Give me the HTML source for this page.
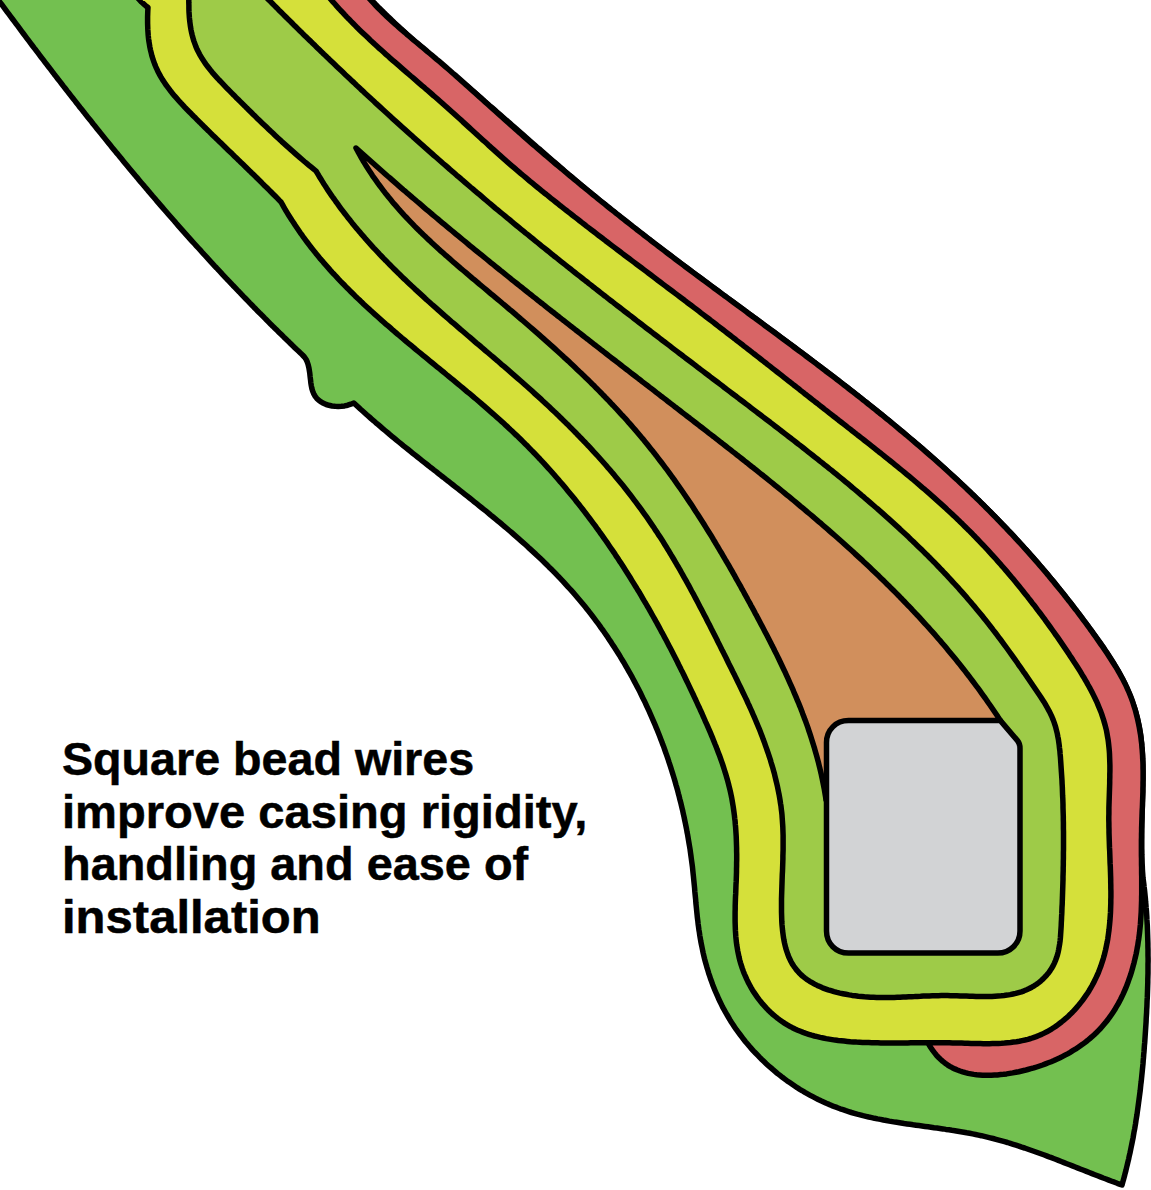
<!DOCTYPE html>
<html><head><meta charset="utf-8"><style>
html,body{margin:0;padding:0;background:#fff;width:1151px;height:1190px;overflow:hidden;position:relative}
.t{position:absolute;left:61.5px;top:732.8px;font-family:"Liberation Sans",sans-serif;font-weight:bold;font-size:46.5px;line-height:52.7px;color:#000;white-space:nowrap}
.t div{transform-origin:0 0;-webkit-text-stroke:0.5px #000}
</style></head><body>
<svg width="1151" height="1190" viewBox="0 0 1151 1190" style="position:absolute;left:0;top:0">
<g stroke="#000" stroke-width="5.5" stroke-linejoin="round">
<path fill="#73c050" d="M-9.0,-10.0 L-7.2,-7.6 L-5.4,-5.2 L-3.7,-2.7 L-1.9,-0.3 L-0.1,2.1 L1.7,4.5 L3.5,6.9 L5.3,9.4 L7.1,11.8 L8.9,14.2 L10.7,16.6 L12.5,19.0 L14.3,21.4 L16.1,23.8 L17.9,26.2 L19.7,28.7 L21.5,31.1 L23.3,33.5 L25.1,35.9 L26.9,38.3 L28.7,40.7 L30.5,43.1 L32.3,45.5 L34.1,47.9 L36.0,50.3 L37.8,52.7 L39.6,55.1 L41.4,57.5 L43.3,59.9 L45.1,62.3 L46.9,64.7 L48.7,67.0 L50.6,69.4 L52.4,71.8 L54.2,74.2 L56.1,76.6 L57.9,79.0 L59.8,81.4 L61.6,83.7 L63.4,86.1 L65.3,88.5 L67.1,90.9 L69.0,93.3 L70.8,95.6 L72.7,98.0 L74.6,100.4 L76.4,102.7 L78.3,105.1 L80.1,107.5 L82.0,109.8 L83.9,112.2 L85.7,114.6 L87.6,116.9 L89.5,119.3 L91.4,121.6 L93.2,124.0 L95.1,126.3 L97.0,128.7 L98.9,131.0 L100.8,133.4 L102.7,135.7 L104.6,138.1 L106.4,140.4 L108.3,142.8 L110.2,145.1 L112.1,147.4 L114.0,149.8 L115.9,152.1 L117.9,154.4 L119.8,156.8 L121.7,159.1 L123.6,161.4 L125.5,163.7 L127.4,166.0 L129.4,168.4 L131.3,170.7 L133.2,173.0 L135.1,175.3 L137.1,177.6 L139.0,179.9 L140.9,182.2 L142.9,184.5 L144.8,186.8 L146.8,189.1 L148.7,191.4 L150.7,193.7 L152.6,196.0 L154.6,198.3 L156.5,200.6 L158.5,202.9 L160.4,205.1 L162.4,207.4 L164.4,209.7 L166.4,212.0 L168.3,214.2 L170.3,216.5 L172.3,218.8 L174.3,221.0 L176.2,223.3 L178.2,225.6 L180.2,227.8 L182.2,230.1 L184.2,232.3 L186.2,234.6 L188.2,236.8 L190.2,239.1 L192.2,241.3 L194.2,243.5 L196.3,245.8 L198.3,248.0 L200.3,250.2 L202.3,252.5 L204.3,254.7 L206.4,256.9 L208.4,259.1 L210.4,261.3 L212.5,263.6 L214.5,265.8 L216.6,268.0 L218.6,270.2 L220.7,272.4 L222.7,274.6 L224.8,276.8 L226.8,279.0 L228.9,281.1 L231.0,283.3 L233.0,285.5 L235.1,287.7 L237.2,289.9 L239.3,292.0 L241.3,294.2 L243.4,296.4 L245.5,298.5 L247.6,300.7 L249.7,302.9 L251.8,305.0 L253.9,307.2 L256.0,309.3 L258.1,311.5 L260.2,313.6 L262.4,315.7 L264.5,317.9 L266.6,320.0 L268.7,322.1 L270.8,324.3 L273.0,326.4 L275.1,328.5 L277.3,330.6 L279.4,332.7 L281.6,334.8 L283.7,336.9 L285.9,339.0 L288.0,341.1 L290.2,343.2 L292.3,345.3 L294.5,347.4 L296.7,349.5 L298.9,351.5 L301.0,353.6 L302.5,355.0 L304.4,357.0 L306.0,359.3 L307.2,361.8 L308.1,364.5 L308.8,367.3 L309.3,370.3 L309.8,373.4 L310.1,376.5 L310.5,379.6 L310.8,382.6 L311.3,385.7 L311.9,388.6 L312.7,391.3 L313.8,393.9 L315.2,396.3 L316.8,398.4 L318.8,400.3 L321.1,401.9 L323.5,403.3 L326.2,404.5 L329.0,405.3 L332.0,406.0 L335.1,406.3 L338.2,406.4 L341.4,406.3 L344.6,405.9 L347.7,405.2 L350.8,404.2 L353.8,403.0 L356.0,405.0 L358.2,407.0 L360.3,409.0 L362.6,411.0 L364.8,413.0 L367.0,415.0 L369.2,416.9 L371.4,418.9 L373.7,420.8 L375.9,422.8 L378.2,424.7 L380.5,426.7 L382.7,428.6 L385.0,430.5 L387.3,432.4 L389.6,434.4 L391.9,436.3 L394.2,438.2 L396.5,440.1 L398.8,442.0 L401.2,443.9 L403.5,445.8 L405.8,447.6 L408.2,449.5 L410.5,451.4 L412.8,453.3 L415.2,455.2 L417.5,457.0 L419.9,458.9 L422.3,460.8 L424.6,462.6 L427.0,464.5 L429.3,466.4 L431.7,468.2 L434.1,470.1 L436.5,471.9 L438.8,473.8 L441.2,475.7 L443.6,477.5 L445.9,479.4 L448.3,481.2 L450.7,483.1 L453.1,485.0 L455.4,486.8 L457.8,488.7 L460.2,490.6 L462.5,492.4 L464.9,494.3 L467.3,496.2 L469.6,498.0 L472.0,499.9 L474.3,501.8 L476.7,503.7 L479.0,505.6 L481.4,507.5 L483.7,509.3 L486.1,511.2 L488.4,513.1 L490.7,515.1 L493.1,517.0 L495.4,518.9 L497.7,520.8 L500.0,522.7 L502.3,524.7 L504.6,526.6 L506.9,528.5 L509.2,530.5 L511.5,532.4 L513.7,534.4 L516.0,536.4 L518.3,538.4 L520.5,540.3 L522.8,542.3 L525.0,544.3 L527.2,546.3 L529.4,548.4 L531.6,550.4 L533.8,552.4 L536.0,554.4 L538.2,556.5 L540.4,558.6 L542.5,560.6 L544.7,562.7 L546.8,564.8 L548.9,566.9 L551.1,569.0 L553.2,571.1 L555.2,573.2 L557.3,575.4 L559.4,577.5 L561.4,579.7 L563.5,581.9 L565.5,584.1 L567.5,586.3 L569.5,588.5 L571.5,590.7 L573.5,592.9 L575.5,595.2 L577.4,597.5 L579.3,599.7 L581.2,602.0 L583.1,604.3 L585.0,606.6 L586.9,609.0 L588.8,611.3 L590.6,613.7 L592.4,616.0 L594.2,618.4 L596.0,620.8 L597.8,623.2 L599.6,625.6 L601.3,628.1 L603.1,630.5 L604.8,633.0 L606.5,635.4 L608.2,637.9 L609.8,640.4 L611.5,642.9 L613.1,645.4 L614.8,647.9 L616.4,650.4 L618.0,653.0 L619.6,655.5 L621.1,658.1 L622.7,660.7 L624.2,663.2 L625.7,665.8 L627.2,668.4 L628.7,671.1 L630.2,673.7 L631.7,676.3 L633.1,679.0 L634.5,681.6 L635.9,684.3 L637.3,686.9 L638.7,689.6 L640.1,692.3 L641.4,695.0 L642.7,697.7 L644.1,700.4 L645.4,703.1 L646.6,705.8 L647.9,708.6 L649.2,711.3 L650.4,714.1 L651.6,716.8 L652.8,719.6 L654.0,722.4 L655.2,725.2 L656.3,727.9 L657.5,730.7 L658.6,733.5 L659.7,736.3 L660.8,739.2 L661.9,742.0 L662.9,744.8 L664.0,747.6 L665.0,750.5 L666.0,753.3 L667.0,756.2 L668.0,759.0 L668.9,761.9 L669.9,764.8 L670.8,767.6 L671.7,770.5 L672.6,773.4 L673.5,776.3 L674.4,779.2 L675.2,782.1 L676.0,785.0 L676.9,787.9 L677.7,790.8 L678.4,793.7 L679.2,796.6 L679.9,799.5 L680.7,802.4 L681.4,805.4 L682.1,808.3 L682.8,811.2 L683.4,814.2 L684.1,817.1 L684.7,820.1 L685.3,823.0 L685.9,825.9 L686.5,828.9 L687.0,831.9 L687.6,834.8 L688.1,837.8 L688.6,840.7 L689.1,843.7 L689.6,846.6 L690.1,849.6 L690.5,852.6 L690.9,855.5 L691.3,858.5 L691.7,861.5 L692.1,864.4 L692.5,867.4 L692.8,870.4 L693.1,873.4 L693.4,876.3 L693.7,879.3 L694.0,882.3 L694.3,885.2 L694.6,888.2 L694.8,891.2 L695.1,894.2 L695.4,897.1 L695.7,900.1 L695.9,903.1 L696.2,906.0 L696.5,909.0 L696.8,912.0 L697.1,914.9 L697.4,917.9 L697.8,920.8 L698.1,923.8 L698.5,926.7 L698.9,929.7 L699.4,932.6 L699.8,935.6 L700.3,938.5 L700.8,941.4 L701.4,944.4 L702.0,947.3 L702.6,950.2 L703.2,953.1 L703.9,956.1 L704.6,959.0 L705.4,961.9 L706.2,964.7 L707.0,967.6 L707.9,970.5 L708.7,973.3 L709.7,976.2 L710.6,979.0 L711.7,981.8 L712.7,984.7 L713.8,987.5 L714.9,990.2 L716.1,993.0 L717.3,995.7 L718.5,998.5 L719.8,1001.2 L721.1,1003.9 L722.4,1006.6 L723.8,1009.2 L725.3,1011.8 L726.8,1014.5 L728.3,1017.0 L729.8,1019.6 L731.4,1022.2 L733.1,1024.7 L734.7,1027.2 L736.4,1029.7 L738.2,1032.1 L740.0,1034.5 L741.8,1036.9 L743.6,1039.3 L745.5,1041.7 L747.5,1044.0 L749.4,1046.3 L751.4,1048.6 L753.4,1050.8 L755.5,1053.0 L757.6,1055.2 L759.7,1057.4 L761.8,1059.5 L764.0,1061.6 L766.2,1063.7 L768.4,1065.7 L770.7,1067.7 L773.0,1069.7 L775.3,1071.6 L777.6,1073.6 L780.0,1075.4 L782.4,1077.3 L784.8,1079.1 L787.2,1080.9 L789.7,1082.6 L792.2,1084.3 L794.7,1086.0 L797.2,1087.7 L799.8,1089.3 L802.4,1090.8 L804.9,1092.4 L807.6,1093.9 L810.2,1095.3 L812.8,1096.7 L815.5,1098.1 L818.2,1099.5 L820.9,1100.8 L823.6,1102.0 L826.3,1103.3 L829.1,1104.4 L831.8,1105.6 L834.6,1106.7 L837.4,1107.7 L840.2,1108.8 L843.0,1109.7 L845.8,1110.7 L848.6,1111.6 L851.5,1112.5 L854.3,1113.3 L857.2,1114.1 L860.1,1114.8 L863.0,1115.6 L865.9,1116.3 L868.8,1117.0 L871.7,1117.6 L874.6,1118.3 L877.5,1118.9 L880.5,1119.4 L883.4,1120.0 L886.3,1120.5 L889.3,1121.1 L892.2,1121.6 L895.2,1122.1 L898.2,1122.5 L901.1,1123.0 L904.1,1123.5 L907.1,1123.9 L910.1,1124.3 L913.1,1124.8 L916.0,1125.2 L919.0,1125.6 L922.0,1126.0 L925.0,1126.4 L928.0,1126.8 L931.0,1127.2 L934.0,1127.7 L937.0,1128.1 L939.9,1128.5 L942.9,1128.9 L945.9,1129.4 L948.9,1129.8 L951.9,1130.3 L954.9,1130.7 L957.8,1131.2 L960.8,1131.7 L963.8,1132.2 L966.7,1132.8 L969.7,1133.3 L972.6,1133.9 L975.6,1134.5 L978.5,1135.1 L981.4,1135.7 L984.3,1136.4 L987.3,1137.1 L990.2,1137.8 L993.1,1138.5 L996.0,1139.3 L998.8,1140.1 L1001.7,1140.9 L1004.6,1141.7 L1007.5,1142.5 L1010.3,1143.4 L1013.2,1144.3 L1016.0,1145.2 L1018.9,1146.1 L1021.7,1147.1 L1024.6,1148.0 L1027.4,1149.0 L1030.2,1150.0 L1033.1,1151.0 L1035.9,1152.0 L1038.7,1153.0 L1041.5,1154.0 L1044.4,1155.0 L1047.2,1156.1 L1050.0,1157.2 L1052.8,1158.2 L1055.6,1159.3 L1058.4,1160.4 L1061.2,1161.5 L1064.0,1162.6 L1066.8,1163.7 L1069.6,1164.8 L1072.4,1165.9 L1075.2,1167.0 L1078.0,1168.1 L1080.8,1169.2 L1083.6,1170.3 L1086.4,1171.4 L1089.2,1172.5 L1092.0,1173.6 L1094.8,1174.7 L1097.6,1175.8 L1100.4,1176.9 L1103.2,1178.0 L1106.0,1179.0 L1108.8,1180.1 L1111.7,1181.2 L1114.5,1182.2 L1117.3,1183.3 L1120.1,1184.3 L1122.0,1185.0 L1122.8,1182.1 L1123.6,1179.2 L1124.4,1176.3 L1125.1,1173.4 L1125.9,1170.5 L1126.6,1167.5 L1127.3,1164.6 L1128.0,1161.7 L1128.7,1158.8 L1129.3,1155.8 L1130.0,1152.9 L1130.6,1150.0 L1131.2,1147.0 L1131.8,1144.1 L1132.4,1141.1 L1133.0,1138.2 L1133.5,1135.2 L1134.0,1132.3 L1134.6,1129.3 L1135.1,1126.4 L1135.6,1123.4 L1136.0,1120.4 L1136.5,1117.5 L1137.0,1114.5 L1137.4,1111.5 L1137.8,1108.6 L1138.2,1105.6 L1138.6,1102.6 L1139.0,1099.6 L1139.4,1096.6 L1139.8,1093.6 L1140.2,1090.7 L1140.5,1087.7 L1140.8,1084.7 L1141.2,1081.7 L1141.5,1078.7 L1141.8,1075.7 L1142.1,1072.7 L1142.4,1069.7 L1142.7,1066.7 L1143.0,1063.7 L1143.2,1060.7 L1143.5,1057.7 L1143.7,1054.7 L1144.0,1051.7 L1144.2,1048.7 L1144.4,1045.7 L1144.7,1042.7 L1144.9,1039.6 L1145.1,1036.6 L1145.3,1033.6 L1145.5,1030.6 L1145.7,1027.6 L1145.9,1024.6 L1146.1,1021.6 L1146.2,1018.6 L1146.4,1015.5 L1146.6,1012.5 L1146.7,1009.5 L1146.9,1006.5 L1147.0,1003.5 L1147.1,1000.5 L1147.3,997.4 L1147.4,994.4 L1147.5,991.4 L1147.6,988.4 L1147.7,985.4 L1147.8,982.4 L1147.8,979.4 L1147.9,976.3 L1148.0,973.3 L1148.0,970.3 L1148.0,967.3 L1148.0,964.3 L1148.1,961.3 L1148.1,958.3 L1148.0,955.3 L1148.0,952.3 L1148.0,949.3 L1147.9,946.3 L1147.9,943.3 L1147.8,940.3 L1147.7,937.3 L1147.6,934.3 L1147.5,931.3 L1147.4,928.3 L1147.3,925.4 L1147.1,922.4 L1146.9,919.4 L1146.8,916.4 L1146.6,913.4 L1146.4,910.5 L1146.1,907.5 L1145.9,904.5 L1145.6,901.6 L1145.4,898.6 L1145.1,895.7 L1144.8,892.7 L1144.5,889.8 L1144.1,886.8 L1143.8,883.9 L1143.4,880.9 L1143.0,878.0 L1142.8,875.0 L1142.6,872.1 L1142.4,869.1 L1142.3,866.1 L1142.1,863.1 L1142.0,860.2 L1141.9,857.2 L1141.8,854.2 L1141.8,851.2 L1141.7,848.2 L1141.7,845.2 L1141.7,842.2 L1141.7,839.2 L1141.7,836.2 L1141.7,833.2 L1141.7,830.2 L1141.8,827.2 L1141.8,824.1 L1141.9,821.1 L1142.0,818.1 L1142.0,815.1 L1142.1,812.0 L1142.2,809.0 L1142.3,806.0 L1142.3,802.9 L1142.4,799.9 L1142.5,796.9 L1142.6,793.8 L1142.7,790.8 L1142.7,787.7 L1142.8,784.7 L1142.8,781.6 L1142.9,778.6 L1142.9,775.5 L1142.9,772.5 L1142.9,769.5 L1142.9,766.5 L1142.8,763.4 L1142.7,760.4 L1142.6,757.4 L1142.5,754.4 L1142.3,751.4 L1142.1,748.4 L1141.8,745.4 L1141.6,742.5 L1141.2,739.5 L1140.9,736.6 L1140.5,733.6 L1140.0,730.7 L1139.5,727.8 L1138.9,724.9 L1138.3,722.1 L1137.7,719.2 L1137.0,716.4 L1136.2,713.5 L1135.4,710.7 L1134.5,707.9 L1133.6,705.2 L1132.6,702.4 L1131.6,699.6 L1130.6,696.9 L1129.5,694.2 L1128.3,691.5 L1127.2,688.8 L1125.9,686.1 L1124.7,683.5 L1123.4,680.8 L1122.1,678.2 L1120.7,675.6 L1119.3,673.0 L1117.9,670.4 L1116.4,667.8 L1114.9,665.3 L1113.4,662.7 L1111.8,660.2 L1110.2,657.7 L1108.6,655.2 L1107.0,652.7 L1105.3,650.2 L1103.7,647.7 L1102.0,645.3 L1100.3,642.8 L1098.5,640.4 L1096.8,638.0 L1095.0,635.5 L1093.2,633.1 L1091.5,630.7 L1089.7,628.3 L1087.9,625.9 L1086.1,623.5 L1084.3,621.1 L1082.5,618.7 L1080.7,616.3 L1078.9,613.9 L1077.0,611.5 L1075.2,609.1 L1073.4,606.7 L1071.6,604.3 L1069.7,601.9 L1067.9,599.6 L1066.0,597.2 L1064.2,594.8 L1062.3,592.5 L1060.4,590.1 L1058.5,587.8 L1056.7,585.4 L1054.8,583.1 L1052.9,580.8 L1050.9,578.5 L1049.0,576.1 L1047.1,573.8 L1045.2,571.6 L1043.2,569.3 L1041.3,567.0 L1039.3,564.7 L1037.4,562.4 L1035.4,560.2 L1033.4,557.9 L1031.4,555.7 L1029.4,553.4 L1027.5,551.2 L1025.4,549.0 L1023.4,546.7 L1021.4,544.5 L1019.4,542.3 L1017.4,540.1 L1015.3,537.9 L1013.3,535.7 L1011.2,533.5 L1009.2,531.4 L1007.1,529.2 L1005.0,527.0 L1003.0,524.9 L1000.9,522.7 L998.8,520.6 L996.7,518.4 L994.6,516.3 L992.5,514.1 L990.4,512.0 L988.3,509.9 L986.1,507.8 L984.0,505.7 L981.9,503.6 L979.7,501.5 L977.6,499.4 L975.4,497.3 L973.3,495.2 L971.1,493.1 L969.0,491.1 L966.8,489.0 L964.6,486.9 L962.4,484.9 L960.2,482.8 L958.0,480.8 L955.8,478.8 L953.6,476.7 L951.4,474.7 L949.2,472.7 L947.0,470.7 L944.8,468.6 L942.5,466.6 L940.3,464.6 L938.1,462.6 L935.8,460.6 L933.6,458.6 L931.3,456.6 L929.1,454.7 L926.8,452.7 L924.6,450.7 L922.3,448.7 L920.0,446.8 L917.8,444.8 L915.5,442.9 L913.2,440.9 L910.9,439.0 L908.6,437.0 L906.3,435.1 L904.0,433.2 L901.7,431.2 L899.4,429.3 L897.1,427.4 L894.8,425.5 L892.5,423.5 L890.2,421.6 L887.8,419.7 L885.5,417.8 L883.2,415.9 L880.8,414.0 L878.5,412.1 L876.2,410.2 L873.8,408.4 L871.5,406.5 L869.1,404.6 L866.8,402.7 L864.4,400.9 L862.1,399.0 L859.7,397.1 L857.3,395.3 L855.0,393.4 L852.6,391.5 L850.2,389.7 L847.9,387.8 L845.5,386.0 L843.1,384.2 L840.7,382.3 L838.4,380.5 L836.0,378.6 L833.6,376.8 L831.2,375.0 L828.8,373.2 L826.4,371.3 L824.0,369.5 L821.6,367.7 L819.2,365.9 L816.8,364.1 L814.4,362.3 L812.0,360.4 L809.6,358.6 L807.2,356.8 L804.8,355.0 L802.4,353.2 L800.0,351.4 L797.6,349.6 L795.2,347.8 L792.8,346.0 L790.4,344.2 L788.0,342.5 L785.5,340.7 L783.1,338.9 L780.7,337.1 L778.3,335.3 L775.9,333.5 L773.5,331.7 L771.0,329.9 L768.6,328.2 L766.2,326.4 L763.8,324.6 L761.4,322.8 L758.9,321.0 L756.5,319.3 L754.1,317.5 L751.7,315.7 L749.2,313.9 L746.8,312.1 L744.4,310.4 L742.0,308.6 L739.5,306.8 L737.1,305.0 L734.7,303.3 L732.3,301.5 L729.9,299.7 L727.4,297.9 L725.0,296.1 L722.6,294.4 L720.2,292.6 L717.7,290.8 L715.3,289.0 L712.9,287.2 L710.5,285.5 L708.1,283.7 L705.7,281.9 L703.2,280.1 L700.8,278.3 L698.4,276.5 L696.0,274.8 L693.6,273.0 L691.2,271.2 L688.8,269.4 L686.3,267.6 L683.9,265.8 L681.5,264.0 L679.1,262.2 L676.7,260.4 L674.3,258.6 L671.9,256.8 L669.5,255.0 L667.1,253.2 L664.7,251.4 L662.3,249.5 L660.0,247.7 L657.6,245.9 L655.2,244.1 L652.8,242.3 L650.4,240.5 L648.0,238.6 L645.6,236.8 L643.3,235.0 L640.9,233.1 L638.5,231.3 L636.2,229.4 L633.8,227.6 L631.4,225.8 L629.1,223.9 L626.7,222.0 L624.3,220.2 L622.0,218.3 L619.6,216.5 L617.3,214.6 L614.9,212.7 L612.6,210.9 L610.3,209.0 L607.9,207.1 L605.6,205.2 L603.3,203.3 L600.9,201.4 L598.6,199.5 L596.3,197.6 L594.0,195.7 L591.7,193.8 L589.4,191.9 L587.0,190.0 L584.7,188.0 L582.4,186.1 L580.1,184.2 L577.9,182.2 L575.6,180.3 L573.3,178.4 L571.0,176.4 L568.7,174.5 L566.4,172.5 L564.1,170.6 L561.9,168.6 L559.6,166.7 L557.3,164.7 L555.0,162.7 L552.8,160.8 L550.5,158.8 L548.2,156.8 L546.0,154.9 L543.7,152.9 L541.4,150.9 L539.2,148.9 L536.9,147.0 L534.7,145.0 L532.4,143.0 L530.1,141.0 L527.9,139.1 L525.6,137.1 L523.4,135.1 L521.1,133.1 L518.8,131.1 L516.6,129.2 L514.3,127.2 L512.1,125.2 L509.8,123.2 L507.6,121.2 L505.3,119.3 L503.0,117.3 L500.8,115.3 L498.5,113.3 L496.2,111.4 L494.0,109.4 L491.7,107.4 L489.4,105.5 L487.2,103.5 L484.9,101.5 L482.6,99.6 L480.4,97.6 L478.1,95.7 L475.8,93.7 L473.5,91.7 L471.2,89.8 L469.0,87.9 L466.7,85.9 L464.4,84.0 L462.1,82.0 L459.8,80.1 L457.5,78.1 L455.2,76.2 L452.9,74.3 L450.7,72.3 L448.4,70.4 L446.1,68.4 L443.8,66.5 L441.5,64.5 L439.2,62.6 L437.0,60.7 L434.7,58.7 L432.4,56.7 L430.1,54.8 L427.9,52.8 L425.6,50.9 L423.4,48.9 L421.1,46.9 L418.8,44.9 L416.6,42.9 L414.4,41.0 L412.1,39.0 L409.9,37.0 L407.7,35.0 L405.4,32.9 L403.2,30.9 L401.0,28.9 L398.8,26.8 L396.6,24.8 L394.4,22.8 L392.3,20.7 L390.1,18.6 L387.9,16.5 L385.8,14.4 L383.6,12.3 L381.5,10.2 L379.3,8.1 L377.2,6.0 L375.1,3.8 L373.0,1.7 L370.9,-0.5 L368.9,-2.7 L366.8,-4.8 L364.7,-7.0 L362.7,-9.3 L362.0,-10.0 L-9.0,-10.0Z"/>
<path fill="#d86566" d="M322.0,-10.0 L362.0,-10.0 L363.9,-7.7 L365.9,-5.3 L367.9,-3.0 L369.9,-0.8 L371.9,1.4 L374.0,3.6 L376.0,5.8 L378.1,8.0 L380.2,10.1 L382.4,12.2 L384.5,14.3 L386.7,16.4 L388.9,18.4 L391.1,20.4 L393.3,22.5 L395.5,24.5 L397.8,26.4 L400.0,28.4 L402.3,30.4 L404.6,32.3 L406.8,34.3 L409.1,36.2 L411.4,38.1 L413.7,40.1 L416.0,42.0 L418.3,43.9 L420.6,45.8 L422.9,47.7 L425.2,49.6 L427.5,51.6 L429.8,53.5 L432.1,55.4 L434.4,57.3 L436.7,59.3 L439.0,61.2 L441.3,63.1 L443.6,65.1 L445.9,67.1 L448.1,69.0 L450.4,71.0 L452.6,73.0 L454.9,74.9 L457.1,76.9 L459.4,78.9 L461.6,80.9 L463.9,82.9 L466.1,84.9 L468.4,86.9 L470.6,88.9 L472.8,90.9 L475.1,92.9 L477.3,94.9 L479.5,96.9 L481.8,98.9 L484.0,100.9 L486.2,103.0 L488.5,105.0 L490.7,107.0 L492.9,109.0 L495.2,111.0 L497.4,113.0 L499.6,115.0 L501.9,117.0 L504.1,119.0 L506.3,121.0 L508.6,123.0 L510.8,125.0 L513.1,127.0 L515.3,129.0 L517.6,131.0 L519.8,133.0 L522.1,134.9 L524.3,136.9 L526.6,138.9 L528.9,140.9 L531.1,142.8 L533.4,144.8 L535.7,146.7 L537.9,148.7 L540.2,150.7 L542.5,152.6 L544.8,154.6 L547.0,156.5 L549.3,158.4 L551.6,160.4 L553.9,162.3 L556.2,164.3 L558.5,166.2 L560.8,168.1 L563.1,170.0 L565.4,172.0 L567.7,173.9 L570.0,175.8 L572.3,177.7 L574.6,179.6 L576.9,181.5 L579.2,183.4 L581.5,185.3 L583.8,187.2 L586.2,189.1 L588.5,191.0 L590.8,192.9 L593.1,194.8 L595.5,196.7 L597.8,198.6 L600.1,200.5 L602.5,202.4 L604.8,204.2 L607.1,206.1 L609.5,208.0 L611.8,209.8 L614.2,211.7 L616.5,213.6 L618.9,215.4 L621.2,217.3 L623.6,219.2 L625.9,221.0 L628.3,222.9 L630.6,224.7 L633.0,226.6 L635.4,228.4 L637.7,230.3 L640.1,232.1 L642.5,233.9 L644.8,235.8 L647.2,237.6 L649.6,239.4 L651.9,241.3 L654.3,243.1 L656.7,244.9 L659.1,246.8 L661.5,248.6 L663.9,250.4 L666.3,252.2 L668.6,254.0 L671.0,255.8 L673.4,257.6 L675.8,259.5 L678.2,261.3 L680.6,263.1 L683.0,264.9 L685.4,266.7 L687.8,268.5 L690.2,270.3 L692.6,272.1 L695.0,273.9 L697.5,275.7 L699.9,277.5 L702.3,279.3 L704.7,281.1 L707.1,282.8 L709.5,284.6 L711.9,286.4 L714.3,288.2 L716.8,290.0 L719.2,291.8 L721.6,293.6 L724.0,295.4 L726.4,297.1 L728.8,298.9 L731.3,300.7 L733.7,302.5 L736.1,304.3 L738.5,306.1 L740.9,307.8 L743.4,309.6 L745.8,311.4 L748.2,313.2 L750.6,315.0 L753.0,316.8 L755.5,318.5 L757.9,320.3 L760.3,322.1 L762.7,323.9 L765.1,325.7 L767.6,327.5 L770.0,329.3 L772.4,331.0 L774.8,332.8 L777.2,334.6 L779.7,336.4 L782.1,338.2 L784.5,340.0 L786.9,341.8 L789.3,343.6 L791.7,345.4 L794.1,347.2 L796.5,349.0 L798.9,350.8 L801.4,352.6 L803.8,354.4 L806.2,356.2 L808.6,358.0 L811.0,359.8 L813.4,361.6 L815.8,363.4 L818.2,365.2 L820.6,367.0 L822.9,368.8 L825.3,370.7 L827.7,372.5 L830.1,374.3 L832.5,376.1 L834.9,377.9 L837.3,379.8 L839.7,381.6 L842.0,383.4 L844.4,385.3 L846.8,387.1 L849.2,389.0 L851.5,390.8 L853.9,392.6 L856.2,394.5 L858.6,396.3 L861.0,398.2 L863.3,400.1 L865.7,401.9 L868.0,403.8 L870.4,405.7 L872.7,407.5 L875.1,409.4 L877.4,411.3 L879.7,413.2 L882.1,415.0 L884.4,416.9 L886.7,418.8 L889.1,420.7 L891.4,422.6 L893.7,424.5 L896.0,426.4 L898.3,428.3 L900.6,430.3 L902.9,432.2 L905.2,434.1 L907.5,436.0 L909.8,438.0 L912.1,439.9 L914.4,441.8 L916.7,443.8 L918.9,445.7 L921.2,447.7 L923.5,449.7 L925.7,451.6 L928.0,453.6 L930.3,455.6 L932.5,457.5 L934.8,459.5 L937.0,461.5 L939.2,463.5 L941.5,465.5 L943.7,467.5 L945.9,469.5 L948.1,471.5 L950.3,473.5 L952.6,475.6 L954.8,477.6 L957.0,479.6 L959.2,481.7 L961.3,483.7 L963.5,485.8 L965.7,487.8 L967.9,489.9 L970.1,492.0 L972.2,494.1 L974.4,496.1 L976.5,498.2 L978.7,500.3 L980.8,502.4 L983.0,504.5 L985.1,506.7 L987.2,508.8 L989.3,510.9 L991.4,513.0 L993.6,515.2 L995.7,517.3 L997.8,519.5 L999.8,521.6 L1001.9,523.8 L1004.0,526.0 L1006.1,528.1 L1008.1,530.3 L1010.2,532.5 L1012.3,534.7 L1014.3,536.9 L1016.3,539.1 L1018.4,541.3 L1020.4,543.5 L1022.4,545.7 L1024.4,548.0 L1026.4,550.2 L1028.4,552.4 L1030.4,554.7 L1032.4,556.9 L1034.4,559.2 L1036.4,561.5 L1038.4,563.7 L1040.3,566.0 L1042.3,568.3 L1044.2,570.6 L1046.1,572.8 L1048.1,575.1 L1050.0,577.4 L1051.9,579.8 L1053.8,582.1 L1055.7,584.4 L1057.6,586.7 L1059.5,589.0 L1061.4,591.4 L1063.3,593.7 L1065.1,596.1 L1067.0,598.4 L1068.8,600.8 L1070.7,603.1 L1072.5,605.5 L1074.3,607.9 L1076.2,610.2 L1078.0,612.6 L1079.8,615.0 L1081.6,617.4 L1083.3,619.8 L1085.1,622.2 L1086.9,624.6 L1088.7,627.0 L1090.4,629.5 L1092.2,631.9 L1093.9,634.3 L1095.6,636.7 L1097.3,639.2 L1099.0,641.6 L1100.7,644.1 L1102.4,646.5 L1104.1,649.0 L1105.8,651.5 L1107.5,653.9 L1109.1,656.4 L1110.7,658.9 L1112.3,661.4 L1113.9,663.9 L1115.5,666.4 L1117.0,669.0 L1118.5,671.5 L1120.0,674.1 L1121.4,676.7 L1122.8,679.2 L1124.2,681.9 L1125.5,684.5 L1126.7,687.2 L1127.9,689.8 L1129.1,692.5 L1130.2,695.2 L1131.3,698.0 L1132.3,700.7 L1133.2,703.5 L1134.1,706.3 L1135.0,709.1 L1135.8,712.0 L1136.5,714.8 L1137.2,717.7 L1137.9,720.6 L1138.5,723.5 L1139.1,726.4 L1139.6,729.3 L1140.1,732.2 L1140.6,735.1 L1141.0,738.1 L1141.3,741.0 L1141.7,744.0 L1141.9,746.9 L1142.2,749.9 L1142.4,752.9 L1142.6,755.8 L1142.7,758.8 L1142.9,761.8 L1143.0,764.8 L1143.0,767.8 L1143.1,770.8 L1143.1,773.8 L1143.1,776.8 L1143.1,779.9 L1143.0,782.9 L1143.0,785.9 L1142.9,788.9 L1142.9,791.9 L1142.8,795.0 L1142.7,798.0 L1142.6,801.0 L1142.5,804.0 L1142.4,807.1 L1142.2,810.1 L1142.1,813.1 L1142.0,816.2 L1141.9,819.2 L1141.8,822.2 L1141.7,825.3 L1141.6,828.3 L1141.6,831.3 L1141.5,834.3 L1141.5,837.4 L1141.4,840.4 L1141.4,843.4 L1141.4,846.4 L1141.4,849.4 L1141.4,852.4 L1141.4,855.4 L1141.5,858.4 L1141.5,861.4 L1141.5,864.4 L1141.6,867.4 L1141.6,870.4 L1141.6,873.4 L1141.7,876.4 L1141.7,879.4 L1141.7,882.4 L1141.7,885.4 L1141.7,888.4 L1141.7,891.4 L1141.7,894.4 L1141.6,897.4 L1141.6,900.3 L1141.5,903.3 L1141.4,906.3 L1141.3,909.3 L1141.2,912.3 L1141.0,915.3 L1140.8,918.3 L1140.6,921.2 L1140.4,924.2 L1140.1,927.2 L1139.8,930.2 L1139.5,933.2 L1139.1,936.2 L1138.7,939.2 L1138.2,942.1 L1137.8,945.1 L1137.2,948.1 L1136.7,951.1 L1136.1,954.1 L1135.4,957.0 L1134.7,960.0 L1134.0,962.9 L1133.2,965.8 L1132.4,968.8 L1131.6,971.6 L1130.7,974.5 L1129.7,977.4 L1128.7,980.2 L1127.7,983.1 L1126.6,985.9 L1125.5,988.6 L1124.3,991.4 L1123.1,994.1 L1121.8,996.8 L1120.5,999.5 L1119.1,1002.1 L1117.7,1004.7 L1116.2,1007.2 L1114.7,1009.8 L1113.1,1012.2 L1111.4,1014.7 L1109.7,1017.1 L1108.0,1019.5 L1106.2,1021.8 L1104.3,1024.1 L1102.4,1026.3 L1100.5,1028.5 L1098.4,1030.6 L1096.3,1032.7 L1094.2,1034.7 L1092.0,1036.7 L1089.8,1038.6 L1087.5,1040.5 L1085.2,1042.3 L1082.8,1044.1 L1080.4,1045.8 L1077.9,1047.5 L1075.4,1049.2 L1072.8,1050.7 L1070.2,1052.3 L1067.6,1053.8 L1065.0,1055.2 L1062.3,1056.6 L1059.5,1058.0 L1056.8,1059.2 L1054.0,1060.5 L1051.2,1061.7 L1048.3,1062.8 L1045.5,1063.9 L1042.6,1065.0 L1039.7,1066.0 L1036.7,1067.0 L1033.8,1067.9 L1030.8,1068.7 L1027.8,1069.5 L1024.8,1070.3 L1021.8,1071.0 L1018.8,1071.7 L1015.8,1072.3 L1012.7,1072.9 L1009.7,1073.4 L1006.6,1073.9 L1003.6,1074.3 L1000.5,1074.6 L997.5,1074.9 L994.5,1075.1 L991.4,1075.3 L988.4,1075.3 L985.5,1075.3 L982.5,1075.2 L979.6,1075.0 L976.7,1074.8 L973.8,1074.4 L970.9,1073.9 L968.1,1073.4 L965.4,1072.7 L962.7,1071.9 L960.0,1071.0 L957.4,1070.0 L954.8,1068.9 L952.3,1067.7 L949.8,1066.3 L947.4,1064.8 L945.1,1063.2 L942.8,1061.4 L940.7,1059.5 L938.6,1057.5 L936.5,1055.3 L934.6,1052.9 L932.7,1050.4 L930.9,1047.8 L929.2,1045.0 L928.7,1044.0 L915.0,1025.0 L900.0,900.0 L500.0,300.0 L300.0,-10.0 L322.0,-10.0Z"/>
<path fill="#d5e03a" d="M131.0,-10.0 L133.0,-7.5 L135.1,-5.1 L137.2,-2.7 L139.3,-0.3 L141.5,2.0 L143.9,4.1 L146.3,6.2 L148.0,7.5 L147.8,10.6 L147.7,13.7 L147.6,16.9 L147.6,20.0 L147.6,23.1 L147.7,26.1 L147.8,29.2 L148.0,32.3 L148.2,35.3 L148.5,38.3 L148.9,41.3 L149.4,44.2 L149.9,47.2 L150.5,50.1 L151.2,52.9 L151.9,55.8 L152.8,58.6 L153.7,61.3 L154.7,64.1 L155.8,66.8 L157.0,69.4 L158.2,72.0 L159.6,74.6 L161.0,77.1 L162.5,79.6 L164.1,82.0 L165.7,84.5 L167.5,86.9 L169.2,89.2 L171.0,91.6 L172.9,93.9 L174.8,96.2 L176.8,98.4 L178.8,100.7 L180.8,102.9 L182.9,105.1 L184.9,107.3 L187.0,109.5 L189.2,111.7 L191.3,113.8 L193.4,116.0 L195.6,118.1 L197.7,120.3 L199.9,122.4 L202.0,124.6 L204.2,126.7 L206.3,128.8 L208.5,130.9 L210.7,133.1 L212.8,135.2 L215.0,137.3 L217.2,139.4 L219.3,141.5 L221.5,143.6 L223.7,145.7 L225.8,147.8 L228.0,149.9 L230.2,152.0 L232.4,154.1 L234.5,156.2 L236.7,158.3 L238.9,160.4 L241.0,162.5 L243.2,164.6 L245.4,166.7 L247.5,168.8 L249.7,170.9 L251.8,173.0 L254.0,175.1 L256.2,177.2 L258.3,179.3 L260.5,181.4 L262.6,183.6 L264.7,185.7 L266.9,187.8 L269.0,189.9 L271.1,192.0 L273.3,194.2 L275.4,196.3 L277.5,198.4 L279.6,200.6 L281.0,202.0 L282.5,204.7 L284.0,207.3 L285.5,210.0 L287.1,212.6 L288.7,215.2 L290.3,217.7 L291.9,220.3 L293.6,222.8 L295.2,225.3 L296.9,227.8 L298.6,230.3 L300.3,232.8 L302.1,235.2 L303.8,237.7 L305.6,240.1 L307.4,242.5 L309.2,244.9 L311.0,247.2 L312.9,249.6 L314.8,251.9 L316.6,254.3 L318.5,256.6 L320.4,258.9 L322.4,261.1 L324.3,263.4 L326.3,265.6 L328.3,267.9 L330.2,270.1 L332.2,272.3 L334.3,274.5 L336.3,276.7 L338.3,278.9 L340.4,281.1 L342.5,283.2 L344.6,285.3 L346.6,287.5 L348.8,289.6 L350.9,291.7 L353.0,293.8 L355.1,295.9 L357.3,298.0 L359.5,300.0 L361.6,302.1 L363.8,304.2 L366.0,306.2 L368.2,308.2 L370.4,310.3 L372.6,312.3 L374.9,314.3 L377.1,316.3 L379.3,318.3 L381.6,320.3 L383.8,322.3 L386.1,324.3 L388.4,326.2 L390.7,328.2 L392.9,330.2 L395.2,332.1 L397.5,334.1 L399.8,336.0 L402.1,338.0 L404.4,339.9 L406.7,341.9 L409.1,343.8 L411.4,345.7 L413.7,347.6 L416.0,349.6 L418.3,351.5 L420.7,353.4 L423.0,355.3 L425.3,357.2 L427.7,359.2 L430.0,361.1 L432.4,363.0 L434.7,364.9 L437.0,366.8 L439.4,368.7 L441.7,370.6 L444.1,372.5 L446.4,374.5 L448.7,376.4 L451.1,378.3 L453.4,380.2 L455.7,382.1 L458.1,384.1 L460.4,386.0 L462.7,387.9 L465.0,389.8 L467.3,391.8 L469.7,393.7 L472.0,395.6 L474.3,397.6 L476.6,399.5 L478.9,401.5 L481.1,403.4 L483.4,405.4 L485.7,407.4 L488.0,409.4 L490.2,411.3 L492.5,413.3 L494.7,415.3 L497.0,417.3 L499.2,419.3 L501.5,421.3 L503.7,423.3 L505.9,425.4 L508.1,427.4 L510.3,429.5 L512.5,431.5 L514.6,433.6 L516.8,435.6 L519.0,437.7 L521.1,439.8 L523.2,441.9 L525.3,444.0 L527.5,446.1 L529.6,448.3 L531.6,450.4 L533.7,452.5 L535.8,454.7 L537.9,456.9 L539.9,459.0 L541.9,461.2 L544.0,463.4 L546.0,465.6 L548.0,467.8 L550.0,470.0 L552.0,472.3 L554.0,474.5 L555.9,476.7 L557.9,479.0 L559.8,481.3 L561.8,483.5 L563.7,485.8 L565.6,488.1 L567.5,490.4 L569.4,492.7 L571.3,495.0 L573.2,497.3 L575.1,499.6 L576.9,502.0 L578.8,504.3 L580.6,506.6 L582.5,509.0 L584.3,511.4 L586.1,513.7 L587.9,516.1 L589.7,518.5 L591.5,520.9 L593.3,523.3 L595.1,525.7 L596.8,528.1 L598.6,530.5 L600.3,533.0 L602.1,535.4 L603.8,537.8 L605.5,540.3 L607.2,542.7 L608.9,545.2 L610.6,547.7 L612.3,550.1 L614.0,552.6 L615.6,555.1 L617.3,557.6 L618.9,560.1 L620.6,562.6 L622.2,565.1 L623.8,567.6 L625.5,570.2 L627.1,572.7 L628.7,575.2 L630.3,577.8 L631.8,580.3 L633.4,582.9 L635.0,585.4 L636.6,588.0 L638.1,590.6 L639.7,593.1 L641.2,595.7 L642.7,598.3 L644.2,600.9 L645.8,603.5 L647.3,606.1 L648.8,608.7 L650.3,611.3 L651.7,613.9 L653.2,616.5 L654.7,619.2 L656.2,621.8 L657.6,624.4 L659.1,627.1 L660.5,629.7 L661.9,632.4 L663.4,635.0 L664.8,637.7 L666.2,640.3 L667.6,643.0 L669.0,645.7 L670.4,648.3 L671.8,651.0 L673.2,653.7 L674.6,656.4 L675.9,659.1 L677.3,661.8 L678.6,664.5 L680.0,667.2 L681.3,669.9 L682.7,672.6 L684.0,675.3 L685.3,678.0 L686.6,680.7 L687.9,683.4 L689.2,686.1 L690.5,688.9 L691.8,691.6 L693.1,694.3 L694.4,697.1 L695.7,699.8 L696.9,702.5 L698.2,705.3 L699.5,708.0 L700.7,710.8 L702.0,713.5 L703.2,716.3 L704.4,719.0 L705.6,721.8 L706.9,724.6 L708.1,727.3 L709.3,730.1 L710.5,732.9 L711.6,735.6 L712.8,738.4 L713.9,741.2 L715.0,744.0 L716.2,746.8 L717.2,749.6 L718.3,752.4 L719.4,755.2 L720.4,758.0 L721.4,760.8 L722.4,763.6 L723.3,766.4 L724.2,769.3 L725.1,772.1 L726.0,774.9 L726.8,777.8 L727.6,780.6 L728.4,783.5 L729.1,786.3 L729.8,789.2 L730.5,792.1 L731.1,795.0 L731.7,797.9 L732.2,800.8 L732.7,803.7 L733.2,806.6 L733.6,809.5 L734.0,812.4 L734.4,815.4 L734.7,818.3 L735.1,821.2 L735.3,824.2 L735.6,827.1 L735.8,830.1 L736.0,833.1 L736.2,836.1 L736.3,839.0 L736.4,842.0 L736.5,845.0 L736.6,848.0 L736.6,851.0 L736.7,854.0 L736.7,857.1 L736.7,860.1 L736.6,863.1 L736.6,866.1 L736.5,869.2 L736.5,872.2 L736.4,875.3 L736.3,878.3 L736.2,881.4 L736.0,884.5 L735.9,887.5 L735.8,890.6 L735.7,893.7 L735.5,896.8 L735.4,899.9 L735.3,902.9 L735.2,906.0 L735.2,909.1 L735.1,912.1 L735.1,915.2 L735.1,918.3 L735.1,921.3 L735.2,924.3 L735.3,927.4 L735.4,930.4 L735.6,933.4 L735.8,936.4 L736.1,939.4 L736.4,942.4 L736.8,945.3 L737.3,948.3 L737.8,951.2 L738.4,954.1 L739.0,957.0 L739.7,959.9 L740.5,962.8 L741.4,965.6 L742.3,968.4 L743.3,971.2 L744.4,974.0 L745.6,976.7 L746.8,979.4 L748.1,982.1 L749.5,984.7 L750.9,987.3 L752.4,989.9 L754.0,992.4 L755.7,994.9 L757.4,997.3 L759.1,999.6 L761.0,1002.0 L762.8,1004.2 L764.8,1006.4 L766.8,1008.6 L768.9,1010.7 L771.0,1012.7 L773.1,1014.6 L775.4,1016.5 L777.7,1018.4 L780.0,1020.1 L782.4,1021.8 L784.8,1023.4 L787.3,1024.9 L789.8,1026.3 L792.4,1027.7 L795.0,1029.0 L797.7,1030.2 L800.4,1031.3 L803.1,1032.4 L805.9,1033.4 L808.7,1034.3 L811.5,1035.2 L814.4,1036.0 L817.3,1036.7 L820.2,1037.4 L823.2,1038.0 L826.1,1038.6 L829.1,1039.1 L832.1,1039.6 L835.1,1040.1 L838.2,1040.5 L841.2,1040.8 L844.2,1041.1 L847.3,1041.4 L850.4,1041.7 L853.4,1041.9 L856.5,1042.1 L859.6,1042.2 L862.6,1042.4 L865.7,1042.5 L868.7,1042.6 L871.8,1042.7 L874.8,1042.8 L877.8,1042.8 L880.8,1042.9 L883.8,1042.9 L886.8,1042.9 L889.8,1042.9 L892.8,1042.9 L895.8,1042.9 L898.8,1042.9 L901.7,1042.9 L904.7,1042.9 L907.7,1042.9 L910.7,1042.8 L913.6,1042.8 L916.6,1042.8 L919.6,1042.8 L922.6,1042.7 L925.5,1042.7 L928.5,1042.7 L931.5,1042.7 L934.5,1042.7 L937.5,1042.7 L940.5,1042.7 L943.5,1042.7 L946.5,1042.8 L949.5,1042.8 L952.6,1042.9 L955.6,1042.9 L958.7,1043.0 L961.7,1043.1 L964.8,1043.2 L967.9,1043.3 L971.0,1043.4 L974.0,1043.5 L977.1,1043.6 L980.2,1043.6 L983.3,1043.7 L986.3,1043.7 L989.4,1043.7 L992.4,1043.6 L995.5,1043.5 L998.5,1043.4 L1001.5,1043.3 L1004.5,1043.1 L1007.5,1042.8 L1010.5,1042.5 L1013.5,1042.1 L1016.4,1041.7 L1019.3,1041.2 L1022.2,1040.6 L1025.0,1040.0 L1027.9,1039.3 L1030.7,1038.5 L1033.4,1037.6 L1036.2,1036.6 L1038.9,1035.5 L1041.6,1034.4 L1044.2,1033.1 L1046.8,1031.8 L1049.4,1030.3 L1051.9,1028.8 L1054.4,1027.2 L1056.8,1025.6 L1059.2,1023.8 L1061.5,1022.0 L1063.8,1020.1 L1066.1,1018.2 L1068.3,1016.2 L1070.5,1014.1 L1072.6,1012.0 L1074.6,1009.8 L1076.6,1007.6 L1078.6,1005.3 L1080.5,1002.9 L1082.3,1000.6 L1084.1,998.1 L1085.8,995.7 L1087.5,993.2 L1089.1,990.7 L1090.6,988.1 L1092.1,985.5 L1093.5,982.9 L1094.8,980.3 L1096.1,977.6 L1097.3,975.0 L1098.5,972.3 L1099.5,969.6 L1100.6,966.8 L1101.5,964.1 L1102.4,961.3 L1103.3,958.6 L1104.1,955.8 L1104.8,953.0 L1105.5,950.1 L1106.1,947.3 L1106.7,944.4 L1107.3,941.6 L1107.8,938.7 L1108.2,935.8 L1108.6,932.9 L1109.0,930.0 L1109.3,927.0 L1109.6,924.1 L1109.9,921.1 L1110.1,918.2 L1110.3,915.2 L1110.5,912.2 L1110.6,909.2 L1110.7,906.2 L1110.8,903.2 L1110.8,900.2 L1110.9,897.1 L1110.9,894.1 L1110.9,891.1 L1110.8,888.0 L1110.8,885.0 L1110.7,881.9 L1110.7,878.8 L1110.6,875.8 L1110.5,872.7 L1110.4,869.6 L1110.3,866.5 L1110.1,863.4 L1110.0,860.3 L1109.9,857.2 L1109.8,854.1 L1109.7,851.0 L1109.5,847.9 L1109.4,844.8 L1109.3,841.7 L1109.2,838.6 L1109.1,835.6 L1109.0,832.5 L1109.0,829.4 L1108.9,826.3 L1108.9,823.2 L1108.8,820.1 L1108.8,817.0 L1108.9,813.9 L1108.9,810.8 L1108.9,807.8 L1109.0,804.7 L1109.1,801.6 L1109.2,798.6 L1109.3,795.5 L1109.4,792.5 L1109.5,789.4 L1109.6,786.4 L1109.7,783.4 L1109.7,780.3 L1109.8,777.3 L1109.8,774.3 L1109.9,771.3 L1109.9,768.4 L1109.9,765.4 L1109.8,762.4 L1109.7,759.5 L1109.6,756.6 L1109.5,753.6 L1109.3,750.7 L1109.0,747.8 L1108.7,744.9 L1108.4,742.1 L1108.0,739.2 L1107.5,736.4 L1107.0,733.5 L1106.5,730.7 L1105.8,727.9 L1105.1,725.1 L1104.3,722.4 L1103.5,719.6 L1102.6,716.9 L1101.7,714.1 L1100.7,711.4 L1099.6,708.7 L1098.5,706.1 L1097.4,703.4 L1096.2,700.7 L1094.9,698.1 L1093.6,695.4 L1092.3,692.8 L1091.0,690.2 L1089.6,687.6 L1088.1,685.0 L1086.7,682.4 L1085.2,679.8 L1083.7,677.2 L1082.1,674.7 L1080.6,672.1 L1079.0,669.6 L1077.4,667.0 L1075.8,664.5 L1074.1,661.9 L1072.5,659.4 L1070.8,656.9 L1069.2,654.4 L1067.5,651.9 L1065.8,649.4 L1064.1,646.9 L1062.4,644.4 L1060.7,641.9 L1059.0,639.4 L1057.3,636.9 L1055.5,634.5 L1053.8,632.0 L1052.0,629.5 L1050.3,627.1 L1048.5,624.6 L1046.7,622.2 L1045.0,619.7 L1043.2,617.3 L1041.4,614.9 L1039.6,612.5 L1037.7,610.1 L1035.9,607.6 L1034.1,605.2 L1032.2,602.9 L1030.4,600.5 L1028.5,598.1 L1026.7,595.7 L1024.8,593.4 L1022.9,591.0 L1021.0,588.6 L1019.1,586.3 L1017.2,584.0 L1015.3,581.6 L1013.4,579.3 L1011.4,577.0 L1009.5,574.7 L1007.6,572.4 L1005.6,570.1 L1003.6,567.8 L1001.6,565.6 L999.7,563.3 L997.7,561.1 L995.7,558.8 L993.7,556.6 L991.6,554.3 L989.6,552.1 L987.6,549.9 L985.5,547.7 L983.5,545.5 L981.4,543.3 L979.3,541.1 L977.3,539.0 L975.2,536.8 L973.1,534.7 L971.0,532.5 L968.9,530.4 L966.7,528.3 L964.6,526.2 L962.5,524.1 L960.3,522.0 L958.2,519.9 L956.0,517.8 L953.8,515.8 L951.7,513.7 L949.5,511.7 L947.3,509.7 L945.1,507.6 L942.9,505.6 L940.7,503.6 L938.4,501.6 L936.2,499.6 L934.0,497.6 L931.7,495.6 L929.5,493.7 L927.2,491.7 L925.0,489.7 L922.7,487.8 L920.4,485.8 L918.1,483.9 L915.9,482.0 L913.6,480.0 L911.3,478.1 L909.0,476.2 L906.7,474.3 L904.4,472.4 L902.1,470.5 L899.7,468.6 L897.4,466.7 L895.1,464.8 L892.8,462.9 L890.4,461.0 L888.1,459.2 L885.8,457.3 L883.4,455.4 L881.1,453.5 L878.7,451.7 L876.4,449.8 L874.0,447.9 L871.7,446.1 L869.3,444.2 L867.0,442.4 L864.6,440.5 L862.3,438.7 L859.9,436.8 L857.5,435.0 L855.2,433.1 L852.8,431.3 L850.5,429.4 L848.1,427.6 L845.7,425.7 L843.4,423.9 L841.0,422.0 L838.6,420.2 L836.3,418.3 L833.9,416.5 L831.5,414.6 L829.2,412.8 L826.8,410.9 L824.4,409.1 L822.1,407.2 L819.7,405.4 L817.4,403.5 L815.0,401.7 L812.6,399.8 L810.3,398.0 L807.9,396.1 L805.5,394.3 L803.2,392.4 L800.8,390.6 L798.5,388.7 L796.1,386.8 L793.7,385.0 L791.4,383.1 L789.0,381.3 L786.6,379.4 L784.3,377.6 L781.9,375.7 L779.6,373.9 L777.2,372.0 L774.8,370.1 L772.5,368.3 L770.1,366.4 L767.7,364.6 L765.4,362.7 L763.0,360.9 L760.6,359.0 L758.3,357.2 L755.9,355.3 L753.5,353.5 L751.2,351.6 L748.8,349.8 L746.4,347.9 L744.0,346.1 L741.7,344.2 L739.3,342.4 L736.9,340.6 L734.6,338.7 L732.2,336.9 L729.8,335.0 L727.4,333.2 L725.1,331.4 L722.7,329.5 L720.3,327.7 L717.9,325.9 L715.5,324.0 L713.2,322.2 L710.8,320.4 L708.4,318.5 L706.0,316.7 L703.6,314.9 L701.2,313.1 L698.8,311.2 L696.5,309.4 L694.1,307.6 L691.7,305.8 L689.3,304.0 L686.9,302.2 L684.5,300.3 L682.1,298.5 L679.7,296.7 L677.3,294.9 L674.9,293.1 L672.5,291.3 L670.1,289.5 L667.7,287.7 L665.3,285.9 L662.9,284.1 L660.5,282.3 L658.1,280.5 L655.7,278.6 L653.4,276.8 L651.0,275.0 L648.6,273.2 L646.2,271.4 L643.8,269.6 L641.4,267.8 L639.0,266.0 L636.6,264.2 L634.2,262.4 L631.8,260.6 L629.4,258.8 L627.0,257.0 L624.6,255.2 L622.2,253.4 L619.8,251.5 L617.4,249.7 L615.0,247.9 L612.6,246.1 L610.3,244.3 L607.9,242.5 L605.5,240.7 L603.1,238.8 L600.7,237.0 L598.3,235.2 L596.0,233.4 L593.6,231.5 L591.2,229.7 L588.8,227.9 L586.4,226.1 L584.1,224.2 L581.7,222.4 L579.3,220.5 L577.0,218.7 L574.6,216.9 L572.2,215.0 L569.9,213.2 L567.5,211.3 L565.1,209.5 L562.8,207.6 L560.4,205.8 L558.1,203.9 L555.7,202.0 L553.4,200.2 L551.0,198.3 L548.7,196.4 L546.4,194.5 L544.0,192.7 L541.7,190.8 L539.4,188.9 L537.0,187.0 L534.7,185.1 L532.4,183.2 L530.1,181.3 L527.8,179.3 L525.5,177.4 L523.2,175.5 L520.9,173.6 L518.6,171.6 L516.3,169.7 L514.0,167.7 L511.8,165.8 L509.5,163.8 L507.2,161.8 L505.0,159.9 L502.7,157.9 L500.5,155.9 L498.2,153.9 L496.0,151.9 L493.8,149.9 L491.5,147.9 L489.3,145.9 L487.1,143.8 L484.9,141.8 L482.6,139.8 L480.4,137.8 L478.2,135.8 L476.0,133.7 L473.8,131.7 L471.6,129.7 L469.3,127.6 L467.1,125.6 L464.9,123.6 L462.7,121.6 L460.5,119.5 L458.2,117.5 L456.0,115.5 L453.8,113.5 L451.5,111.5 L449.3,109.5 L447.1,107.5 L444.8,105.5 L442.6,103.5 L440.3,101.5 L438.1,99.5 L435.8,97.5 L433.5,95.6 L431.3,93.6 L429.0,91.6 L426.7,89.7 L424.5,87.7 L422.2,85.8 L419.9,83.8 L417.6,81.8 L415.4,79.9 L413.1,77.9 L410.8,76.0 L408.5,74.0 L406.3,72.1 L404.0,70.1 L401.7,68.1 L399.5,66.2 L397.2,64.2 L394.9,62.2 L392.7,60.3 L390.4,58.3 L388.2,56.3 L385.9,54.3 L383.7,52.3 L381.5,50.3 L379.2,48.3 L377.0,46.3 L374.8,44.3 L372.6,42.2 L370.4,40.2 L368.2,38.1 L366.1,36.1 L363.9,34.0 L361.7,31.9 L359.6,29.9 L357.4,27.8 L355.3,25.6 L353.2,23.5 L351.1,21.4 L349.0,19.2 L346.9,17.1 L344.8,14.9 L342.8,12.7 L340.7,10.5 L338.7,8.3 L336.7,6.1 L334.7,3.8 L332.7,1.6 L330.7,-0.7 L328.8,-3.0 L326.8,-5.3 L324.9,-7.7 L323.0,-10.0 L131.0,-10.0Z"/>
<path fill="#9ecb48" d="M189.0,-10.0 L188.9,-6.9 L188.9,-3.8 L188.8,-0.7 L188.8,2.4 L188.9,5.5 L188.9,8.6 L189.0,11.7 L189.2,14.8 L189.4,17.8 L189.7,20.9 L190.1,23.9 L190.5,26.8 L191.0,29.8 L191.6,32.7 L192.3,35.5 L193.1,38.4 L193.9,41.1 L194.9,43.9 L195.9,46.6 L197.0,49.2 L198.3,51.8 L199.6,54.3 L201.1,56.8 L202.6,59.3 L204.2,61.7 L205.8,64.1 L207.6,66.5 L209.4,68.8 L211.2,71.1 L213.1,73.4 L215.1,75.6 L217.1,77.8 L219.1,80.0 L221.2,82.2 L223.3,84.4 L225.4,86.6 L227.5,88.8 L229.6,90.9 L231.8,93.1 L233.9,95.2 L236.0,97.4 L238.2,99.5 L240.3,101.6 L242.5,103.8 L244.7,105.9 L246.8,108.1 L249.0,110.2 L251.1,112.3 L253.3,114.5 L255.5,116.6 L257.6,118.7 L259.8,120.8 L262.0,122.9 L264.2,125.0 L266.4,127.1 L268.6,129.2 L270.8,131.3 L273.0,133.3 L275.2,135.4 L277.4,137.5 L279.6,139.5 L281.8,141.6 L284.1,143.6 L286.3,145.6 L288.6,147.6 L290.8,149.6 L293.1,151.6 L295.3,153.6 L297.6,155.6 L299.9,157.6 L302.1,159.5 L304.4,161.5 L306.7,163.4 L309.0,165.3 L311.3,167.2 L313.7,169.1 L316.0,171.0 L317.6,173.6 L319.1,176.2 L320.7,178.8 L322.3,181.4 L323.9,184.0 L325.6,186.5 L327.2,189.1 L328.9,191.6 L330.6,194.1 L332.3,196.6 L334.1,199.0 L335.8,201.5 L337.6,203.9 L339.3,206.3 L341.1,208.8 L342.9,211.2 L344.7,213.5 L346.6,215.9 L348.4,218.3 L350.3,220.6 L352.1,222.9 L354.0,225.2 L355.9,227.6 L357.8,229.8 L359.8,232.1 L361.7,234.4 L363.7,236.6 L365.6,238.9 L367.6,241.1 L369.6,243.3 L371.6,245.6 L373.6,247.8 L375.6,249.9 L377.7,252.1 L379.7,254.3 L381.8,256.5 L383.8,258.6 L385.9,260.7 L388.0,262.9 L390.1,265.0 L392.2,267.1 L394.3,269.2 L396.4,271.3 L398.6,273.4 L400.7,275.5 L402.8,277.6 L405.0,279.6 L407.2,281.7 L409.3,283.7 L411.5,285.8 L413.7,287.8 L415.9,289.9 L418.1,291.9 L420.3,293.9 L422.5,295.9 L424.7,297.9 L426.9,300.0 L429.2,302.0 L431.4,304.0 L433.6,305.9 L435.9,307.9 L438.1,309.9 L440.4,311.9 L442.6,313.9 L444.9,315.9 L447.2,317.8 L449.4,319.8 L451.7,321.8 L454.0,323.7 L456.3,325.7 L458.5,327.6 L460.8,329.6 L463.1,331.5 L465.4,333.5 L467.7,335.5 L470.0,337.4 L472.3,339.4 L474.5,341.3 L476.8,343.3 L479.1,345.2 L481.4,347.2 L483.7,349.1 L486.0,351.1 L488.3,353.0 L490.6,355.0 L492.9,356.9 L495.2,358.9 L497.5,360.8 L499.7,362.8 L502.0,364.8 L504.3,366.7 L506.6,368.7 L508.9,370.7 L511.1,372.6 L513.4,374.6 L515.7,376.6 L518.0,378.6 L520.2,380.5 L522.5,382.5 L524.7,384.5 L527.0,386.5 L529.2,388.5 L531.5,390.5 L533.7,392.6 L535.9,394.6 L538.2,396.6 L540.4,398.6 L542.6,400.7 L544.8,402.7 L547.0,404.8 L549.2,406.8 L551.4,408.9 L553.6,411.0 L555.8,413.0 L557.9,415.1 L560.1,417.2 L562.2,419.3 L564.4,421.4 L566.5,423.5 L568.7,425.6 L570.8,427.8 L572.9,429.9 L575.0,432.0 L577.1,434.2 L579.2,436.3 L581.3,438.5 L583.4,440.7 L585.5,442.8 L587.5,445.0 L589.6,447.2 L591.6,449.4 L593.6,451.6 L595.7,453.8 L597.7,456.0 L599.7,458.3 L601.7,460.5 L603.7,462.8 L605.7,465.0 L607.6,467.3 L609.6,469.5 L611.5,471.8 L613.5,474.1 L615.4,476.4 L617.3,478.7 L619.2,481.0 L621.1,483.3 L623.0,485.6 L624.9,488.0 L626.7,490.3 L628.6,492.7 L630.4,495.0 L632.2,497.4 L634.0,499.8 L635.8,502.2 L637.6,504.6 L639.4,507.0 L641.2,509.4 L642.9,511.8 L644.7,514.3 L646.4,516.7 L648.1,519.1 L649.8,521.6 L651.5,524.1 L653.2,526.6 L654.8,529.1 L656.5,531.6 L658.1,534.1 L659.8,536.6 L661.4,539.1 L663.0,541.6 L664.6,544.2 L666.2,546.7 L667.7,549.3 L669.3,551.8 L670.8,554.4 L672.4,557.0 L673.9,559.5 L675.4,562.1 L676.9,564.7 L678.5,567.3 L680.0,569.9 L681.4,572.5 L682.9,575.2 L684.4,577.8 L685.9,580.4 L687.3,583.0 L688.8,585.7 L690.2,588.3 L691.6,591.0 L693.1,593.6 L694.5,596.3 L695.9,598.9 L697.3,601.6 L698.7,604.2 L700.1,606.9 L701.5,609.6 L702.9,612.2 L704.3,614.9 L705.7,617.6 L707.0,620.2 L708.4,622.9 L709.8,625.6 L711.1,628.3 L712.5,631.0 L713.9,633.7 L715.2,636.3 L716.6,639.0 L717.9,641.7 L719.3,644.4 L720.6,647.1 L721.9,649.8 L723.3,652.4 L724.6,655.1 L726.0,657.8 L727.3,660.5 L728.6,663.2 L730.0,665.9 L731.3,668.5 L732.6,671.2 L734.0,673.9 L735.3,676.6 L736.6,679.3 L737.9,681.9 L739.2,684.6 L740.5,687.3 L741.8,690.0 L743.1,692.7 L744.4,695.4 L745.7,698.1 L747.0,700.8 L748.2,703.6 L749.5,706.3 L750.7,709.0 L751.9,711.7 L753.1,714.5 L754.3,717.2 L755.5,720.0 L756.7,722.8 L757.8,725.5 L759.0,728.3 L760.1,731.1 L761.2,733.9 L762.3,736.8 L763.3,739.6 L764.4,742.4 L765.4,745.3 L766.4,748.1 L767.4,751.0 L768.4,753.9 L769.3,756.7 L770.3,759.6 L771.1,762.5 L772.0,765.4 L772.9,768.3 L773.7,771.2 L774.5,774.1 L775.2,777.1 L775.9,780.0 L776.6,782.9 L777.3,785.8 L777.9,788.8 L778.5,791.7 L779.1,794.6 L779.6,797.5 L780.1,800.5 L780.5,803.4 L781.0,806.3 L781.3,809.2 L781.7,812.1 L782.0,815.0 L782.2,818.0 L782.4,820.9 L782.6,823.8 L782.8,826.7 L782.9,829.6 L783.0,832.5 L783.1,835.4 L783.1,838.3 L783.1,841.3 L783.1,844.2 L783.1,847.1 L783.1,850.1 L783.0,853.1 L782.9,856.0 L782.9,859.0 L782.8,862.0 L782.7,865.0 L782.6,868.0 L782.5,871.0 L782.3,874.1 L782.2,877.1 L782.1,880.2 L782.0,883.3 L781.9,886.4 L781.8,889.6 L781.7,892.7 L781.6,895.9 L781.5,899.1 L781.5,902.3 L781.5,905.5 L781.5,908.7 L781.5,911.9 L781.6,915.1 L781.7,918.3 L781.8,921.5 L782.0,924.7 L782.3,927.8 L782.6,930.9 L783.0,933.9 L783.4,937.0 L783.9,939.9 L784.5,942.9 L785.2,945.8 L785.9,948.6 L786.8,951.3 L787.7,954.0 L788.7,956.7 L789.9,959.2 L791.1,961.7 L792.4,964.1 L793.9,966.3 L795.5,968.5 L797.2,970.7 L799.0,972.7 L800.9,974.6 L802.9,976.4 L805.1,978.1 L807.3,979.7 L809.7,981.3 L812.1,982.7 L814.6,984.1 L817.2,985.4 L819.8,986.6 L822.5,987.8 L825.3,988.8 L828.1,989.8 L831.0,990.7 L834.0,991.6 L836.9,992.4 L839.9,993.1 L842.9,993.7 L846.0,994.3 L849.1,994.9 L852.1,995.4 L855.2,995.8 L858.3,996.2 L861.4,996.5 L864.5,996.8 L867.5,997.0 L870.6,997.2 L873.6,997.3 L876.6,997.4 L879.6,997.5 L882.5,997.5 L885.5,997.5 L888.4,997.5 L891.3,997.5 L894.3,997.4 L897.2,997.3 L900.1,997.2 L903.0,997.1 L905.9,997.0 L908.8,996.8 L911.7,996.7 L914.6,996.6 L917.5,996.4 L920.5,996.3 L923.4,996.1 L926.4,996.0 L929.3,995.9 L932.3,995.8 L935.3,995.7 L938.3,995.7 L941.4,995.6 L944.4,995.6 L947.5,995.6 L950.6,995.7 L953.7,995.7 L956.9,995.8 L960.1,995.9 L963.2,996.0 L966.4,996.1 L969.6,996.2 L972.8,996.3 L976.0,996.4 L979.2,996.5 L982.4,996.5 L985.6,996.5 L988.7,996.4 L991.9,996.4 L995.0,996.2 L998.1,996.0 L1001.1,995.8 L1004.1,995.5 L1007.1,995.1 L1010.1,994.6 L1013.0,994.0 L1015.8,993.4 L1018.6,992.6 L1021.4,991.8 L1024.1,990.8 L1026.7,989.7 L1029.3,988.5 L1031.8,987.2 L1034.2,985.8 L1036.6,984.2 L1038.8,982.6 L1041.0,980.8 L1043.1,978.9 L1045.0,976.9 L1046.9,974.8 L1048.7,972.7 L1050.3,970.4 L1051.8,968.0 L1053.2,965.6 L1054.4,963.1 L1055.5,960.5 L1056.5,957.8 L1057.4,955.1 L1058.1,952.3 L1058.7,949.5 L1059.2,946.6 L1059.7,943.7 L1060.1,940.8 L1060.4,937.8 L1060.6,934.8 L1060.8,931.7 L1061.0,928.7 L1061.2,925.6 L1061.3,922.6 L1061.5,919.5 L1061.6,916.5 L1061.8,913.4 L1061.9,910.4 L1062.0,907.3 L1062.2,904.3 L1062.3,901.2 L1062.4,898.2 L1062.5,895.1 L1062.6,892.1 L1062.7,889.1 L1062.8,886.0 L1062.9,883.0 L1063.0,879.9 L1063.0,876.9 L1063.1,873.9 L1063.2,870.8 L1063.2,867.8 L1063.3,864.8 L1063.3,861.7 L1063.4,858.7 L1063.4,855.7 L1063.4,852.6 L1063.5,849.6 L1063.5,846.6 L1063.5,843.6 L1063.5,840.6 L1063.5,837.5 L1063.5,834.5 L1063.5,831.5 L1063.4,828.5 L1063.4,825.5 L1063.4,822.5 L1063.3,819.5 L1063.3,816.5 L1063.2,813.5 L1063.1,810.5 L1063.0,807.5 L1063.0,804.5 L1062.9,801.5 L1062.8,798.5 L1062.6,795.5 L1062.5,792.5 L1062.4,789.5 L1062.3,786.6 L1062.1,783.6 L1062.0,780.6 L1061.8,777.6 L1061.6,774.7 L1061.4,771.7 L1061.2,768.7 L1061.0,765.8 L1060.8,762.8 L1060.6,759.9 L1060.4,756.9 L1060.1,754.0 L1059.9,751.0 L1059.5,748.1 L1059.2,745.2 L1058.8,742.3 L1058.4,739.4 L1057.8,736.5 L1057.3,733.7 L1056.6,730.9 L1055.9,728.1 L1055.1,725.3 L1054.2,722.6 L1053.2,719.9 L1052.1,717.2 L1050.9,714.6 L1049.6,711.9 L1048.2,709.4 L1046.8,706.8 L1045.3,704.2 L1043.8,701.7 L1042.2,699.2 L1040.6,696.7 L1038.9,694.2 L1037.2,691.7 L1035.5,689.2 L1033.8,686.7 L1032.1,684.2 L1030.4,681.7 L1028.7,679.2 L1027.0,676.7 L1025.3,674.2 L1023.5,671.8 L1021.8,669.3 L1020.1,666.8 L1018.3,664.3 L1016.6,661.8 L1014.9,659.4 L1013.1,656.9 L1011.3,654.4 L1009.6,652.0 L1007.8,649.5 L1006.0,647.0 L1004.2,644.6 L1002.4,642.2 L1000.6,639.7 L998.8,637.3 L997.0,634.9 L995.2,632.5 L993.3,630.1 L991.5,627.7 L989.6,625.3 L987.8,622.9 L985.9,620.6 L984.0,618.2 L982.1,615.8 L980.2,613.5 L978.3,611.2 L976.4,608.9 L974.5,606.6 L972.5,604.3 L970.6,602.0 L968.6,599.7 L966.7,597.4 L964.7,595.2 L962.7,592.9 L960.7,590.7 L958.8,588.4 L956.7,586.2 L954.7,584.0 L952.7,581.8 L950.7,579.6 L948.6,577.4 L946.6,575.2 L944.5,573.0 L942.5,570.8 L940.4,568.7 L938.3,566.5 L936.3,564.4 L934.2,562.2 L932.1,560.1 L930.0,558.0 L927.9,555.8 L925.7,553.7 L923.6,551.6 L921.5,549.5 L919.3,547.4 L917.2,545.4 L915.0,543.3 L912.9,541.2 L910.7,539.2 L908.6,537.1 L906.4,535.0 L904.2,533.0 L902.0,531.0 L899.8,528.9 L897.6,526.9 L895.4,524.9 L893.2,522.9 L891.0,520.9 L888.8,518.9 L886.5,516.9 L884.3,514.9 L882.1,512.9 L879.8,510.9 L877.6,508.9 L875.3,507.0 L873.0,505.0 L870.8,503.1 L868.5,501.1 L866.2,499.2 L864.0,497.2 L861.7,495.3 L859.4,493.3 L857.1,491.4 L854.8,489.5 L852.5,487.6 L850.2,485.6 L847.9,483.7 L845.6,481.8 L843.3,479.9 L841.0,478.0 L838.6,476.1 L836.3,474.2 L834.0,472.3 L831.7,470.4 L829.3,468.6 L827.0,466.7 L824.6,464.8 L822.3,462.9 L819.9,461.1 L817.6,459.2 L815.2,457.3 L812.9,455.5 L810.5,453.6 L808.2,451.8 L805.8,449.9 L803.4,448.0 L801.1,446.2 L798.7,444.4 L796.3,442.5 L794.0,440.7 L791.6,438.8 L789.2,437.0 L786.8,435.1 L784.5,433.3 L782.1,431.5 L779.7,429.6 L777.3,427.8 L774.9,426.0 L772.6,424.2 L770.2,422.3 L767.8,420.5 L765.4,418.7 L763.0,416.9 L760.6,415.0 L758.2,413.2 L755.8,411.4 L753.4,409.6 L751.1,407.8 L748.7,405.9 L746.3,404.1 L743.9,402.3 L741.5,400.5 L739.1,398.7 L736.7,396.8 L734.3,395.0 L731.9,393.2 L729.5,391.4 L727.1,389.6 L724.7,387.8 L722.4,385.9 L720.0,384.1 L717.6,382.3 L715.2,380.5 L712.8,378.7 L710.4,376.9 L708.0,375.0 L705.6,373.2 L703.2,371.4 L700.8,369.6 L698.4,367.8 L696.0,365.9 L693.7,364.1 L691.3,362.3 L688.9,360.5 L686.5,358.7 L684.1,356.9 L681.7,355.0 L679.3,353.2 L676.9,351.4 L674.5,349.6 L672.2,347.8 L669.8,345.9 L667.4,344.1 L665.0,342.3 L662.6,340.5 L660.2,338.6 L657.8,336.8 L655.5,335.0 L653.1,333.2 L650.7,331.3 L648.3,329.5 L645.9,327.7 L643.6,325.9 L641.2,324.0 L638.8,322.2 L636.4,320.4 L634.0,318.5 L631.7,316.7 L629.3,314.9 L626.9,313.0 L624.5,311.2 L622.2,309.4 L619.8,307.5 L617.4,305.7 L615.0,303.9 L612.7,302.0 L610.3,300.2 L607.9,298.4 L605.6,296.5 L603.2,294.7 L600.8,292.8 L598.5,291.0 L596.1,289.1 L593.7,287.3 L591.4,285.4 L589.0,283.6 L586.7,281.7 L584.3,279.9 L581.9,278.0 L579.6,276.2 L577.2,274.3 L574.9,272.5 L572.5,270.6 L570.2,268.7 L567.8,266.9 L565.5,265.0 L563.1,263.1 L560.8,261.3 L558.4,259.4 L556.1,257.5 L553.7,255.7 L551.4,253.8 L549.1,251.9 L546.7,250.0 L544.4,248.2 L542.0,246.3 L539.7,244.4 L537.4,242.5 L535.0,240.6 L532.7,238.7 L530.4,236.8 L528.1,234.9 L525.7,233.1 L523.4,231.2 L521.1,229.3 L518.8,227.4 L516.4,225.5 L514.1,223.6 L511.8,221.7 L509.5,219.7 L507.2,217.8 L504.9,215.9 L502.6,214.0 L500.2,212.1 L497.9,210.2 L495.6,208.3 L493.3,206.3 L491.0,204.4 L488.7,202.5 L486.4,200.5 L484.1,198.6 L481.9,196.7 L479.6,194.7 L477.3,192.8 L475.0,190.9 L472.7,188.9 L470.4,187.0 L468.1,185.0 L465.9,183.1 L463.6,181.1 L461.3,179.2 L459.0,177.2 L456.7,175.3 L454.5,173.3 L452.2,171.3 L449.9,169.4 L447.7,167.4 L445.4,165.4 L443.1,163.5 L440.9,161.5 L438.6,159.5 L436.4,157.5 L434.1,155.6 L431.9,153.6 L429.6,151.6 L427.4,149.6 L425.1,147.6 L422.9,145.6 L420.6,143.6 L418.4,141.6 L416.1,139.6 L413.9,137.7 L411.7,135.6 L409.4,133.6 L407.2,131.6 L405.0,129.6 L402.7,127.6 L400.5,125.6 L398.3,123.6 L396.1,121.6 L393.8,119.6 L391.6,117.6 L389.4,115.5 L387.2,113.5 L385.0,111.5 L382.8,109.5 L380.5,107.4 L378.3,105.4 L376.1,103.4 L373.9,101.3 L371.7,99.3 L369.5,97.2 L367.3,95.2 L365.1,93.2 L362.9,91.1 L360.7,89.1 L358.5,87.0 L356.3,85.0 L354.2,82.9 L352.0,80.9 L349.8,78.8 L347.6,76.7 L345.4,74.7 L343.2,72.6 L341.1,70.6 L338.9,68.5 L336.7,66.4 L334.5,64.3 L332.4,62.3 L330.2,60.2 L328.0,58.1 L325.9,56.0 L323.7,54.0 L321.6,51.9 L319.4,49.8 L317.2,47.7 L315.1,45.6 L312.9,43.5 L310.8,41.4 L308.6,39.4 L306.5,37.3 L304.3,35.2 L302.2,33.1 L300.0,31.0 L297.9,28.9 L295.8,26.8 L293.6,24.7 L291.5,22.5 L289.4,20.4 L287.2,18.3 L285.1,16.2 L283.0,14.1 L280.9,12.0 L278.7,9.9 L276.6,7.7 L274.5,5.6 L272.4,3.5 L270.3,1.4 L268.1,-0.8 L266.0,-2.9 L263.9,-5.0 L261.8,-7.2 L259.7,-9.3 L259.0,-10.0 L189.0,-10.0Z"/>
<path fill="#d18f5c" d="M356.0,148.0 L358.2,150.0 L360.5,152.0 L362.7,154.0 L365.0,156.0 L367.2,158.0 L369.5,160.0 L371.7,162.0 L374.0,164.0 L376.2,166.0 L378.5,168.0 L380.7,170.0 L383.0,172.0 L385.2,174.0 L387.5,176.0 L389.8,177.9 L392.0,179.9 L394.3,181.9 L396.6,183.9 L398.8,185.8 L401.1,187.8 L403.4,189.8 L405.7,191.7 L407.9,193.7 L410.2,195.6 L412.5,197.6 L414.8,199.5 L417.1,201.5 L419.4,203.4 L421.7,205.4 L423.9,207.3 L426.2,209.3 L428.5,211.2 L430.8,213.1 L433.1,215.1 L435.4,217.0 L437.7,218.9 L440.0,220.9 L442.3,222.8 L444.6,224.7 L446.9,226.6 L449.3,228.6 L451.6,230.5 L453.9,232.4 L456.2,234.3 L458.5,236.2 L460.8,238.1 L463.1,240.0 L465.5,241.9 L467.8,243.8 L470.1,245.8 L472.4,247.7 L474.7,249.6 L477.1,251.5 L479.4,253.3 L481.7,255.2 L484.1,257.1 L486.4,259.0 L488.7,260.9 L491.0,262.8 L493.4,264.7 L495.7,266.6 L498.1,268.5 L500.4,270.4 L502.7,272.2 L505.1,274.1 L507.4,276.0 L509.8,277.9 L512.1,279.8 L514.4,281.6 L516.8,283.5 L519.1,285.4 L521.5,287.2 L523.8,289.1 L526.2,291.0 L528.5,292.9 L530.9,294.7 L533.2,296.6 L535.6,298.4 L537.9,300.3 L540.3,302.2 L542.7,304.0 L545.0,305.9 L547.4,307.8 L549.7,309.6 L552.1,311.5 L554.5,313.3 L556.8,315.2 L559.2,317.0 L561.5,318.9 L563.9,320.7 L566.3,322.6 L568.6,324.4 L571.0,326.3 L573.4,328.1 L575.7,330.0 L578.1,331.8 L580.5,333.7 L582.8,335.5 L585.2,337.4 L587.6,339.2 L590.0,341.1 L592.3,342.9 L594.7,344.8 L597.1,346.6 L599.4,348.4 L601.8,350.3 L604.2,352.1 L606.6,354.0 L608.9,355.8 L611.3,357.7 L613.7,359.5 L616.1,361.3 L618.5,363.2 L620.8,365.0 L623.2,366.9 L625.6,368.7 L628.0,370.5 L630.3,372.4 L632.7,374.2 L635.1,376.0 L637.5,377.9 L639.9,379.7 L642.2,381.6 L644.6,383.4 L647.0,385.2 L649.4,387.1 L651.8,388.9 L654.1,390.7 L656.5,392.6 L658.9,394.4 L661.3,396.3 L663.7,398.1 L666.1,399.9 L668.4,401.8 L670.8,403.6 L673.2,405.4 L675.6,407.3 L678.0,409.1 L680.4,411.0 L682.7,412.8 L685.1,414.6 L687.5,416.5 L689.9,418.3 L692.3,420.2 L694.6,422.0 L697.0,423.8 L699.4,425.7 L701.8,427.5 L704.2,429.4 L706.5,431.2 L708.9,433.1 L711.3,434.9 L713.7,436.7 L716.1,438.6 L718.4,440.4 L720.8,442.3 L723.2,444.1 L725.6,446.0 L727.9,447.8 L730.3,449.7 L732.7,451.6 L735.1,453.4 L737.4,455.3 L739.8,457.1 L742.2,459.0 L744.5,460.9 L746.9,462.7 L749.2,464.6 L751.6,466.5 L754.0,468.3 L756.3,470.2 L758.7,472.1 L761.0,474.0 L763.4,475.8 L765.7,477.7 L768.1,479.6 L770.4,481.5 L772.8,483.4 L775.1,485.3 L777.4,487.2 L779.8,489.1 L782.1,491.0 L784.4,492.9 L786.7,494.8 L789.1,496.7 L791.4,498.6 L793.7,500.5 L796.0,502.4 L798.3,504.3 L800.6,506.3 L802.9,508.2 L805.2,510.1 L807.5,512.1 L809.8,514.0 L812.1,515.9 L814.4,517.9 L816.7,519.8 L819.0,521.8 L821.3,523.7 L823.5,525.7 L825.8,527.7 L828.1,529.6 L830.3,531.6 L832.6,533.6 L834.8,535.5 L837.1,537.5 L839.3,539.5 L841.6,541.5 L843.8,543.5 L846.0,545.5 L848.2,547.5 L850.5,549.5 L852.7,551.5 L854.9,553.6 L857.1,555.6 L859.3,557.6 L861.5,559.6 L863.7,561.7 L865.9,563.7 L868.1,565.8 L870.2,567.8 L872.4,569.9 L874.6,572.0 L876.7,574.0 L878.9,576.1 L881.0,578.2 L883.2,580.3 L885.3,582.4 L887.4,584.5 L889.6,586.6 L891.7,588.7 L893.8,590.8 L895.9,592.9 L898.0,595.0 L900.1,597.2 L902.2,599.3 L904.3,601.5 L906.3,603.6 L908.4,605.8 L910.5,607.9 L912.5,610.1 L914.6,612.3 L916.6,614.5 L918.7,616.7 L920.7,618.9 L922.7,621.1 L924.7,623.3 L926.7,625.5 L928.7,627.7 L930.7,630.0 L932.7,632.2 L934.7,634.4 L936.7,636.7 L938.6,639.0 L940.6,641.2 L942.5,643.5 L944.5,645.8 L946.4,648.1 L948.3,650.4 L950.2,652.7 L952.1,655.0 L954.0,657.3 L955.9,659.6 L957.8,662.0 L959.7,664.3 L961.6,666.7 L963.4,669.0 L965.3,671.4 L967.1,673.8 L969.0,676.2 L970.8,678.6 L972.6,681.0 L974.4,683.4 L976.2,685.8 L978.0,688.2 L979.8,690.7 L981.5,693.1 L983.3,695.6 L985.1,698.0 L986.8,700.5 L988.5,703.0 L990.3,705.5 L992.0,708.0 L993.7,710.5 L995.4,713.0 L997.1,715.5 L998.7,718.1 L1000.4,720.6 L1008.0,740.0 L1000.0,790.0 L840.0,790.0 L826.0,800.0 L825.6,797.0 L825.1,794.1 L824.6,791.1 L824.1,788.1 L823.5,785.2 L822.9,782.3 L822.3,779.3 L821.7,776.4 L821.1,773.5 L820.4,770.6 L819.7,767.7 L819.0,764.8 L818.3,761.9 L817.5,759.0 L816.7,756.1 L815.9,753.3 L815.1,750.4 L814.3,747.6 L813.4,744.7 L812.5,741.9 L811.6,739.0 L810.7,736.2 L809.8,733.4 L808.8,730.5 L807.9,727.7 L806.9,724.9 L805.9,722.1 L804.8,719.3 L803.8,716.5 L802.7,713.7 L801.7,710.9 L800.6,708.1 L799.5,705.4 L798.4,702.6 L797.2,699.8 L796.1,697.1 L794.9,694.3 L793.7,691.6 L792.6,688.8 L791.4,686.1 L790.1,683.3 L788.9,680.6 L787.7,677.9 L786.4,675.1 L785.2,672.4 L783.9,669.7 L782.6,667.0 L781.3,664.3 L780.0,661.5 L778.7,658.8 L777.4,656.1 L776.1,653.4 L774.7,650.7 L773.4,648.0 L772.0,645.4 L770.7,642.7 L769.3,640.0 L767.9,637.3 L766.5,634.6 L765.1,631.9 L763.7,629.3 L762.3,626.6 L760.9,623.9 L759.5,621.2 L758.1,618.6 L756.7,615.9 L755.2,613.3 L753.8,610.6 L752.4,607.9 L750.9,605.3 L749.5,602.6 L748.0,600.0 L746.6,597.3 L745.1,594.7 L743.7,592.0 L742.2,589.4 L740.8,586.7 L739.3,584.1 L737.8,581.5 L736.3,578.8 L734.9,576.2 L733.4,573.6 L731.9,570.9 L730.4,568.3 L728.9,565.7 L727.4,563.1 L725.8,560.5 L724.3,557.9 L722.8,555.3 L721.3,552.7 L719.7,550.1 L718.2,547.5 L716.6,544.9 L715.1,542.3 L713.5,539.7 L712.0,537.1 L710.4,534.6 L708.8,532.0 L707.2,529.5 L705.6,526.9 L704.0,524.3 L702.4,521.8 L700.8,519.3 L699.2,516.7 L697.6,514.2 L695.9,511.7 L694.3,509.2 L692.6,506.6 L691.0,504.1 L689.3,501.6 L687.6,499.1 L686.0,496.7 L684.3,494.2 L682.6,491.7 L680.9,489.2 L679.2,486.8 L677.4,484.3 L675.7,481.9 L674.0,479.4 L672.2,477.0 L670.5,474.6 L668.7,472.1 L666.9,469.7 L665.1,467.3 L663.3,464.9 L661.5,462.5 L659.7,460.2 L657.9,457.8 L656.1,455.4 L654.2,453.1 L652.4,450.7 L650.5,448.4 L648.6,446.0 L646.8,443.7 L644.9,441.4 L643.0,439.1 L641.0,436.8 L639.1,434.5 L637.2,432.2 L635.2,429.9 L633.3,427.7 L631.3,425.4 L629.3,423.2 L627.4,420.9 L625.4,418.7 L623.4,416.5 L621.3,414.3 L619.3,412.1 L617.3,409.9 L615.2,407.7 L613.2,405.5 L611.1,403.3 L609.1,401.1 L607.0,399.0 L604.9,396.8 L602.8,394.7 L600.7,392.5 L598.6,390.4 L596.5,388.3 L594.4,386.1 L592.2,384.0 L590.1,381.9 L588.0,379.8 L585.8,377.7 L583.6,375.6 L581.5,373.5 L579.3,371.5 L577.1,369.4 L574.9,367.3 L572.8,365.3 L570.6,363.2 L568.4,361.1 L566.2,359.1 L563.9,357.1 L561.7,355.0 L559.5,353.0 L557.3,351.0 L555.0,348.9 L552.8,346.9 L550.5,344.9 L548.3,342.9 L546.0,340.9 L543.8,338.9 L541.5,336.9 L539.3,334.9 L537.0,332.9 L534.7,330.9 L532.4,328.9 L530.2,327.0 L527.9,325.0 L525.6,323.0 L523.3,321.0 L521.0,319.1 L518.7,317.1 L516.4,315.2 L514.1,313.2 L511.8,311.2 L509.5,309.3 L507.2,307.3 L504.9,305.4 L502.6,303.5 L500.3,301.5 L498.0,299.6 L495.6,297.6 L493.3,295.7 L491.0,293.8 L488.7,291.8 L486.4,289.9 L484.1,288.0 L481.7,286.0 L479.4,284.1 L477.1,282.1 L474.8,280.2 L472.5,278.3 L470.2,276.3 L467.9,274.4 L465.6,272.4 L463.3,270.5 L461.0,268.6 L458.7,266.6 L456.4,264.6 L454.1,262.7 L451.9,260.7 L449.6,258.7 L447.4,256.7 L445.1,254.8 L442.9,252.8 L440.6,250.8 L438.4,248.8 L436.2,246.7 L434.0,244.7 L431.8,242.7 L429.6,240.6 L427.4,238.6 L425.3,236.5 L423.1,234.5 L421.0,232.4 L418.8,230.3 L416.7,228.2 L414.6,226.1 L412.5,223.9 L410.5,221.8 L408.4,219.6 L406.4,217.5 L404.3,215.3 L402.3,213.1 L400.3,210.9 L398.4,208.7 L396.4,206.4 L394.4,204.2 L392.5,201.9 L390.6,199.6 L388.7,197.3 L386.9,195.0 L385.0,192.7 L383.2,190.3 L381.4,187.9 L379.6,185.5 L377.8,183.1 L376.1,180.7 L374.3,178.2 L372.6,175.8 L371.0,173.3 L369.3,170.7 L367.7,168.2 L366.1,165.7 L364.5,163.1 L362.9,160.5 L361.4,157.8 L359.9,155.2 L358.4,152.5 L357.0,149.8 L356.0,148.0Z"/>
<path fill="#d2d3d5" d="M848.5,720.6 L1000.4,720.6 L1017.5,740.6 C1019.2,742.6 1020,745 1020,748.5 L1020,931 C1020,943.5 1010,953 997.8,953 L848.5,953 C836,953 826.5,943.5 826.5,931 L826.5,742.6 C826.5,730 836,720.6 848.5,720.6 Z"/>
</g>
</svg>
<div class="t"><div style="transform:scaleX(1.003)">Square bead wires</div><div style="transform:scaleX(1.013)">improve casing rigidity,</div><div style="transform:scaleX(1.008)">handling and ease of</div><div style="transform:scaleX(1.054)">installation</div></div>
</body></html>
